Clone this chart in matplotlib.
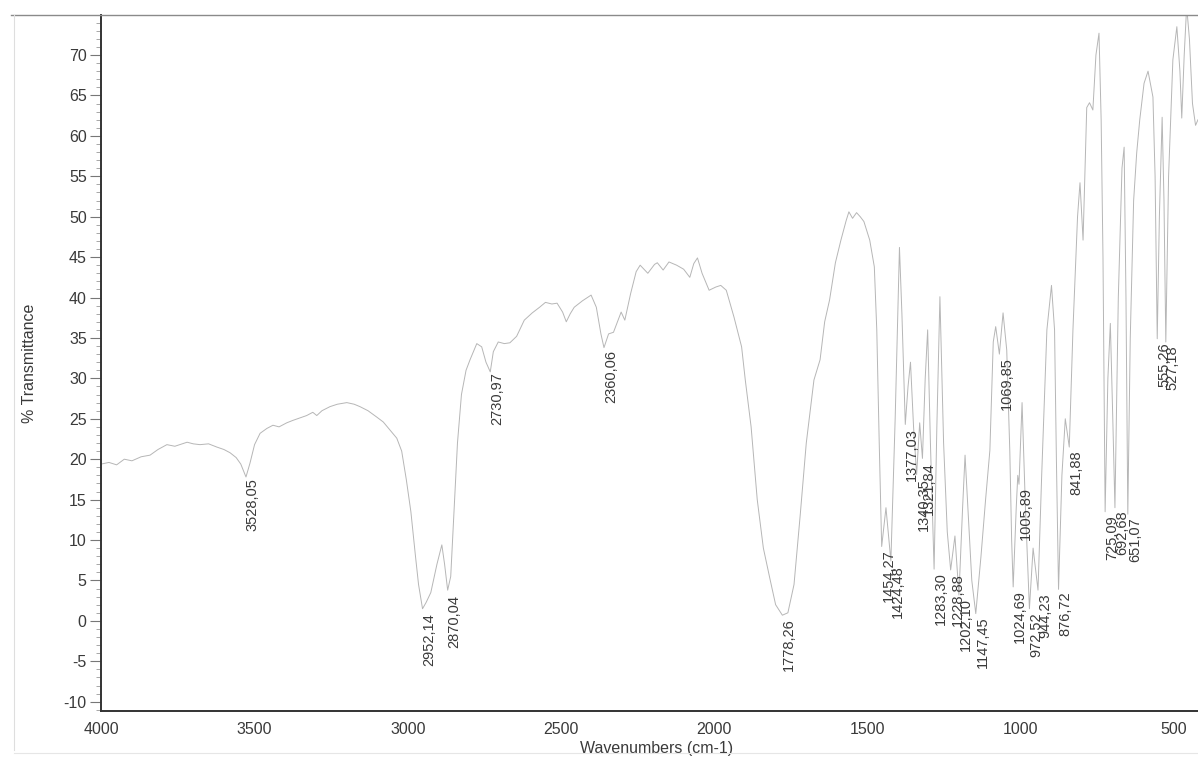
import matplotlib
matplotlib.use("Agg")
import matplotlib.pyplot as plt
from matplotlib.lines import Line2D
from matplotlib.ticker import MultipleLocator

plt.rcParams['font.family'] = ['Liberation Sans', 'DejaVu Sans']

# ---- spectrum (wavenumber cm-1, % transmittance) ----
wavenumber = [4000, 3975, 3950, 3925, 3900, 3870, 3841, 3815, 3786, 3760, 3720, 3700,
              3678, 3650, 3623, 3600, 3580, 3560, 3545, 3528, 3515, 3500, 3482, 3460,
              3440, 3420, 3395, 3375, 3352, 3330, 3310, 3297, 3280, 3254, 3230, 3199,
              3175, 3156, 3130, 3101, 3080, 3058, 3036, 3020, 3005, 2990, 2975, 2965,
              2952, 2940, 2925, 2905, 2889, 2880, 2870, 2860, 2850, 2838, 2825, 2810,
              2797, 2775, 2759, 2745, 2731, 2721, 2705, 2685, 2667, 2645, 2620, 2594,
              2570, 2551, 2530, 2513, 2495, 2483, 2470, 2457, 2430, 2402, 2385, 2370,
              2360, 2345, 2329, 2304, 2292, 2273, 2255, 2242, 2217, 2195, 2186, 2167,
              2148, 2123, 2100, 2080, 2067, 2055, 2040, 2017, 1995, 1979, 1961, 1936,
              1911, 1899, 1880, 1860, 1840, 1818, 1800, 1778, 1760, 1740, 1720, 1700,
              1675, 1655, 1640, 1624, 1605, 1587, 1570, 1561, 1549, 1536, 1524, 1512,
              1493, 1478, 1470, 1462, 1454, 1440, 1424, 1410, 1396, 1388, 1377, 1368,
              1360, 1350, 1340, 1330, 1321, 1312, 1304, 1295, 1283, 1274, 1264, 1252,
              1240, 1229, 1215, 1202, 1190, 1182, 1170, 1160, 1147, 1130, 1115, 1101,
              1090, 1082, 1070, 1058, 1046, 1036, 1030, 1025, 1015, 1010, 1006, 996,
              985, 972, 960, 944, 932, 915, 900, 890, 884, 877, 866, 855,
              842, 830, 815, 807, 797, 785, 776, 765, 755, 745, 738, 732,
              725, 716, 708, 700, 693, 682, 670, 663, 657, 651, 643, 632,
              622, 612, 598, 585, 569, 562, 555, 548, 539, 533, 527, 518,
              504, 491, 481, 475, 467, 459, 450, 440, 430, 422]
transmittance = [19.4, 19.6, 19.3, 20.0, 19.8, 20.3, 20.5, 21.2, 21.8, 21.6, 22.1, 21.9,
                 21.8, 21.9, 21.5, 21.2, 20.8, 20.2, 19.4, 17.8, 19.5, 21.8, 23.2, 23.8,
                 24.2, 24.0, 24.5, 24.8, 25.1, 25.4, 25.8, 25.4, 26.0, 26.5, 26.8, 27.0,
                 26.8, 26.5, 26.0, 25.2, 24.6, 23.6, 22.6, 21.0, 17.5, 13.5, 8.0, 4.5,
                 1.5, 2.3, 3.5, 7.0, 9.4, 7.0, 3.8, 5.5, 13.0, 22.0, 28.0, 31.0,
                 32.3, 34.3, 33.9, 32.0, 30.8, 33.3, 34.5, 34.3, 34.4, 35.2, 37.2, 38.1,
                 38.8, 39.4, 39.2, 39.3, 38.2, 37.0, 38.0, 38.8, 39.6, 40.3, 38.8, 35.5,
                 33.8, 35.5, 35.7, 38.2, 37.2, 40.5, 43.2, 44.0, 43.0, 44.1, 44.3, 43.4,
                 44.4, 44.0, 43.5, 42.5, 44.2, 44.9, 43.0, 40.9, 41.3, 41.5, 40.9, 37.6,
                 33.9, 29.8, 24.0, 15.0, 9.0, 5.1, 2.0, 0.7, 1.0, 4.5, 13.0, 22.0,
                 29.8, 32.3, 37.0, 39.7, 44.3, 47.1, 49.5, 50.6, 49.8, 50.5, 50.0, 49.4,
                 47.1, 43.8, 36.0, 22.0, 9.2, 14.0, 7.4, 25.0, 46.2, 38.0, 24.3, 29.0,
                 32.0, 24.0, 18.1, 24.5, 20.1, 30.0, 36.0, 22.0, 6.4, 24.0, 40.1, 22.0,
                 11.0, 6.3, 10.5, 3.2, 14.0, 20.5, 12.0, 5.0, 0.9, 8.0, 15.0, 21.1,
                 34.5, 36.4, 33.0, 38.1, 33.5, 21.0, 10.0, 4.2, 14.0, 18.0, 16.9, 27.0,
                 14.0, 1.5, 9.0, 3.8, 18.0, 36.0, 41.5, 36.0, 20.0, 3.9, 18.0, 25.0,
                 21.5, 36.0, 50.0, 54.2, 47.1, 63.5, 64.1, 63.2, 70.0, 72.7, 62.0, 45.0,
                 13.5, 30.0, 36.8, 25.0, 14.0, 40.0, 56.0, 58.6, 40.0, 13.2, 35.0, 52.0,
                 57.9, 62.0, 66.5, 68.0, 64.8, 55.0, 34.9, 50.0, 62.3, 52.0, 34.5, 55.0,
                 69.4, 73.5, 68.0, 62.2, 70.0, 76.0, 72.0, 64.0, 61.3, 62.0]

# ---- peak annotations ----
peak_labels = ["3528,05", "2952,14", "2870,04", "2730,97", "2360,06", "1778,26",
               "1454,27", "1424,48", "1377,03", "1340,35", "1321,84", "1283,30",
               "1228,88", "1202,10", "1147,45", "1069,85", "1024,69", "1005,89",
               "972,52", "944,23", "876,72", "841,88", "725,09", "692,68",
               "651,07", "555,26", "527,18"]
peak_wn = [3528.05, 2952.14, 2870.04, 2730.97, 2360.06, 1778.26,
           1454.27, 1424.48, 1377.03, 1340.35, 1321.84, 1283.30,
           1228.88, 1202.10, 1147.45, 1069.85, 1024.69, 1005.89,
           972.52, 944.23, 876.72, 841.88, 725.09, 692.68,
           651.07, 555.26, 527.18]
peak_label_top = [17.6, 0.9, 3.2, 30.8, 33.5, 0.35,
                  8.8, 6.9, 23.9, 17.7, 19.6, 6.0,
                  5.9, 2.8, 0.5, 32.6, 3.8, 16.6,
                  1.1, 3.4, 3.6, 21.1, 13.1, 13.7,
                  12.8, 34.5, 34.1]

x_ticks = [4000, 3500, 3000, 2500, 2000, 1500, 1000, 500]
y_ticks = [-10, -5, 0, 5, 10, 15, 20, 25, 30, 35, 40, 45, 50, 55, 60, 65, 70]

W, H = 1198, 758
fig = plt.figure(figsize=(W / 100, H / 100), dpi=100)
ax = fig.add_axes([101.3 / W, 1 - 711 / H, (W - 101.3) / W, (711 - 15) / H])

ax.plot(wavenumber, transmittance, color='#b6b6b6', lw=0.7)

for lab, wn, top in zip(peak_labels, peak_wn, peak_label_top):
    ax.text(wn, top, lab, rotation=90, ha='left', va='top', fontsize=10.5,
            color='#3a3a3a')

ax.set_xlim(4000, 422)
ax.set_ylim(-11.15, 74.95)
ax.set_xticks(x_ticks)
ax.set_xticklabels([str(v) for v in x_ticks])
ax.set_yticks(y_ticks)
ax.set_yticklabels([str(v) for v in y_ticks])
ax.yaxis.set_minor_locator(MultipleLocator(1))

ax.tick_params(axis='x', which='both', length=0, pad=8, labelsize=11.5, labelcolor='#3a3a3a')
ax.tick_params(axis='y', which='major', direction='out', length=8, width=0.8,
               color='#777777', pad=2.5, labelsize=11.5, labelcolor='#3a3a3a')
ax.tick_params(axis='y', which='minor', direction='out', length=3.5, width=0.6,
               color='#999999')

for s in ['top', 'right']:
    ax.spines[s].set_visible(False)
for s in ['left', 'bottom']:
    ax.spines[s].set_color('#333333')
    ax.spines[s].set_linewidth(1.4)

ax.set_xlabel('Wavenumbers (cm-1)', fontsize=11.5, color='#3a3a3a')
ax.xaxis.set_label_coords((657 - 101.3) / (W - 101.3), (711 - 741) / 696)
ax.set_ylabel('% Transmittance', fontsize=11.5, color='#3a3a3a')
ax.yaxis.set_label_coords((37 - 101.3) / (W - 101.3), 0.5)

# outer frame of the printed page
fig.add_artist(Line2D([11 / W, 1.0], [1 - 15 / H, 1 - 15 / H],
                      transform=fig.transFigure, color='#8a8a8a', lw=1.0))
fig.add_artist(Line2D([14 / W, 14 / W], [1 - 15 / H, 1 - 750 / H],
                      transform=fig.transFigure, color='#dedede', lw=0.8))
fig.add_artist(Line2D([14 / W, 1.0], [1 - 753 / H, 1 - 753 / H],
                      transform=fig.transFigure, color='#e6e6e6', lw=0.8))

fig.savefig('out.png', dpi=100)
